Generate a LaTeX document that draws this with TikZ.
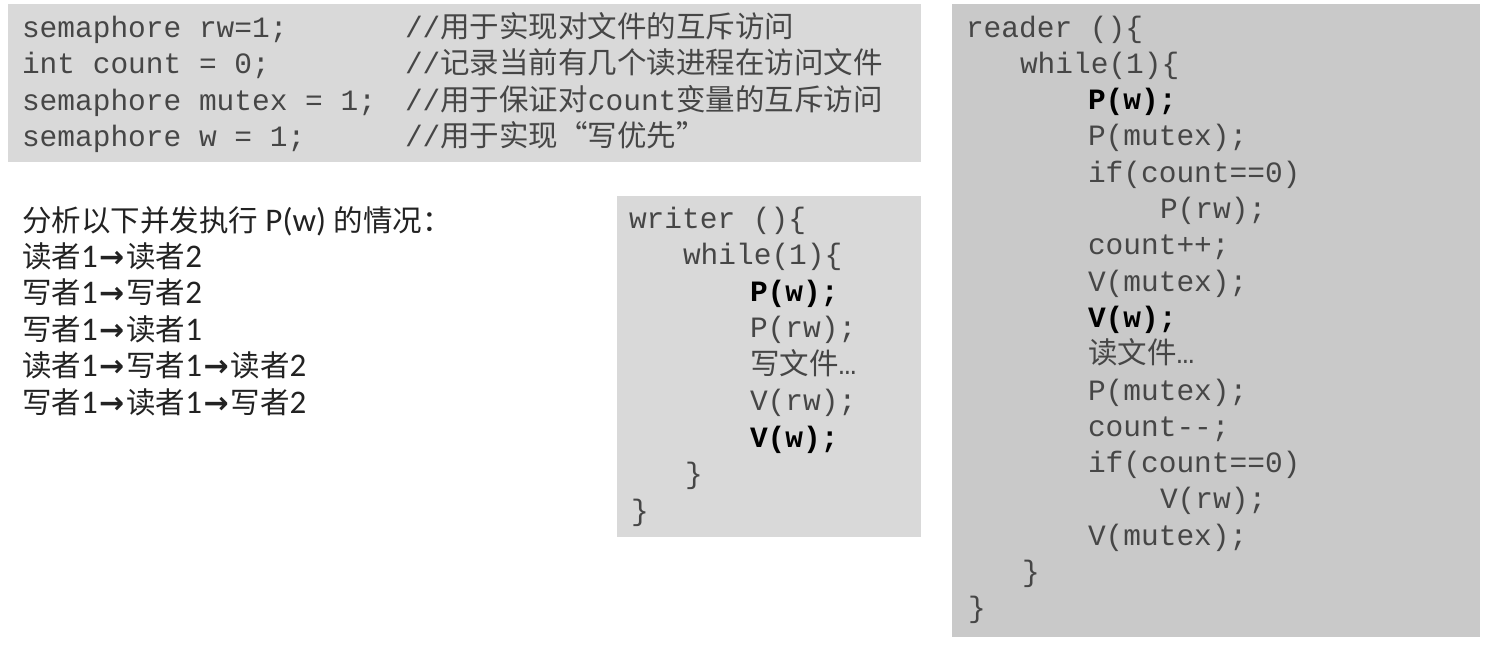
\documentclass[tikz,border=0pt]{standalone}
\usepackage{fontspec}
\setmonofont{Liberation Mono}
\newfontfamily\cjk{Noto Sans CJK SC}
\newfontfamily\calfont{Carlito}
\newfontfamily\arrfont{DejaVu Sans}
\definecolor{boxa}{RGB}{217,217,217}
\definecolor{boxb}{RGB}{201,201,201}
\definecolor{codegray}{RGB}{70,70,70}
\definecolor{txt}{RGB}{34,34,34}
\newcommand{\ar}{\hspace{1.5pt}{\arrfont\bfseries\fontsize{30}{30}\selectfont →}\hspace{2pt}}
\newcommand{\cj}[1]{{\cjk\fontsize{29.5}{36.5}\selectfont #1}}
\tikzset{
  panel/.style={fill=#1, draw=none},
  code/.style={anchor=base west, inner sep=0pt, outer sep=0pt, text=codegray,
    font=\ttfamily\fontsize{29.5}{36.5}\selectfont},
  bcode/.style={code, text=black, font=\ttfamily\bfseries\fontsize{29.5}{36.5}\selectfont},
  plain/.style={anchor=base west, inner sep=0pt, outer sep=0pt, text=txt,
    font=\calfont\fontsize{33}{36.5}\selectfont},
}
\begin{document}
\begin{tikzpicture}[x=1pt,y=-1pt]
\useasboundingbox[fill=white] (0,0) rectangle (1485,646);
% panels
\path[panel=boxa] (8,4) rectangle (921,162);
\path[panel=boxa] (617,196) rectangle (921,537);
\path[panel=boxb] (952,4) rectangle (1480,637);
% top box declarations
\node[code] (d1) at (22,37) {semaphore rw=1;};
\node[code] (d2) at (22,73.5) {int count = 0;};
\node[code] (d3) at (22,110) {semaphore mutex = 1;};
\node[code] (d4) at (22,146.5) {semaphore w = 1;};
\node[code] (c1) at (405,37) {//{\cjk 用于实现对文件的互斥访问}};
\node[code] (c2) at (405,73.5) {//{\cjk 记录当前有几个读进程在访问文件}};
\node[code] (c3) at (405,110) {//{\cjk 用于保证对}count{\cjk 变量的互斥访问}};
\node[code] (c4) at (405,146.5) {//{\cjk 用于实现“写优先”}};
% left analysis text
\node[plain] (q0) at (22,231) {\cj{分析以下并发执行} P(w) \cj{的情况：}};
\node[plain] (q1) at (22,267.4) {\cj{读者}1\ar\cj{读者}2};
\node[plain] (q2) at (22,303.8) {\cj{写者}1\ar\cj{写者}2};
\node[plain] (q3) at (22,340.2) {\cj{写者}1\ar\cj{读者}1};
\node[plain] (q4) at (22,376.6) {\cj{读者}1\ar\cj{写者}1\ar\cj{读者}2};
\node[plain] (q5) at (22,413) {\cj{写者}1\ar\cj{读者}1\ar\cj{写者}2};
% writer
\node[code]  (w0) at (629,228) {writer ()\{};
\node[code]  (w1) at (683,264.5) {while(1)\{};
\node[bcode] (w2) at (750,301) {P(w);};
\node[code]  (w3) at (750,337.5) {P(rw);};
\node[code]  (w4) at (750,374) {{\cjk 写文件}…};
\node[code]  (w5) at (750,410.5) {V(rw);};
\node[bcode] (w6) at (750,447) {V(w);};
\node[code]  (w7) at (685,483.5) {\}};
\node[code]  (w8) at (631,520) {\}};
% reader
\node[code]  (r0)  at (966,37) {reader ()\{};
\node[code]  (r1)  at (1020,73.3) {while(1)\{};
\node[bcode] (r2)  at (1088,109.6) {P(w);};
\node[code]  (r3)  at (1088,145.9) {P(mutex);};
\node[code]  (r4)  at (1088,182.2) {if(count==0)};
\node[code]  (r5)  at (1160,218.5) {P(rw);};
\node[code]  (r6)  at (1088,254.8) {count++;};
\node[code]  (r7)  at (1088,291.1) {V(mutex);};
\node[bcode] (r8)  at (1088,327.4) {V(w);};
\node[code]  (r9)  at (1088,363.7) {{\cjk 读文件}…};
\node[code]  (r10) at (1088,400) {P(mutex);};
\node[code]  (r11) at (1088,436.3) {count-{}-;};
\node[code]  (r12) at (1088,472.6) {if(count==0)};
\node[code]  (r13) at (1160,508.9) {V(rw);};
\node[code]  (r14) at (1088,545.2) {V(mutex);};
\node[code]  (r15) at (1022,581.5) {\}};
\node[code]  (r16) at (968,617.8) {\}};
\end{tikzpicture}
\end{document}
